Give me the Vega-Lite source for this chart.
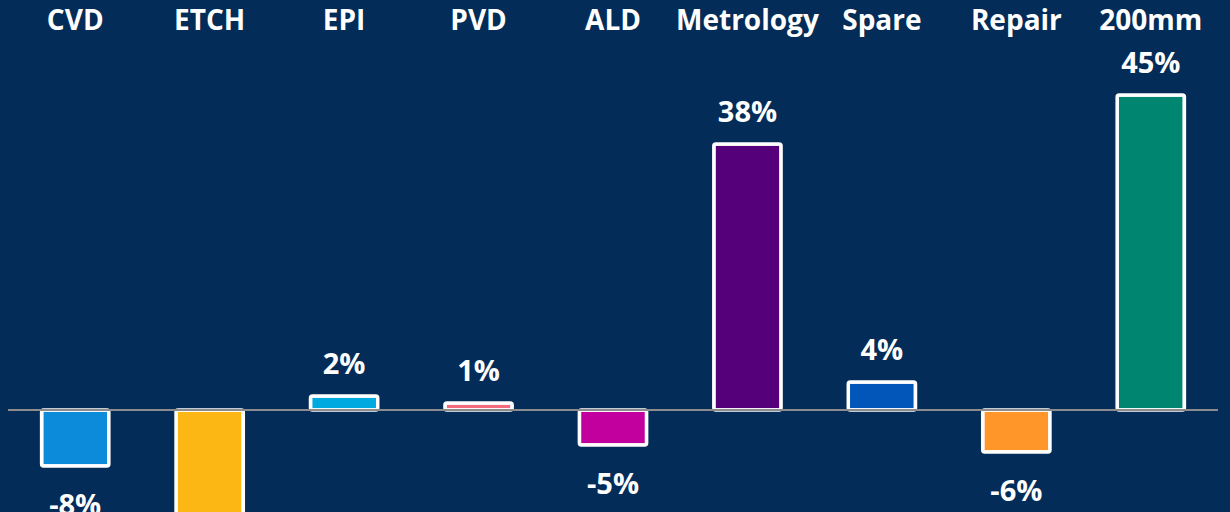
{
  "$schema": "https://vega.github.io/schema/vega-lite/v6.json",
  "width": 1210,
  "height": 510,
  "autosize": {"type": "none"},
  "padding": {"left": 8, "top": 40, "right": 12, "bottom": 0},
  "background": "#032c58",
  "config": {
    "view": {"stroke": null},
    "font": "Open Sans",
    "locale": {"number": {"decimal": ".", "thousands": ",", "grouping": [3], "currency": ["$", ""], "minus": "-"}}
  },
  "data": {
    "values": [
      {"segment": "CVD", "value": -0.08},
      {"segment": "ETCH", "value": -0.18},
      {"segment": "EPI", "value": 0.02},
      {"segment": "PVD", "value": 0.01},
      {"segment": "ALD", "value": -0.05},
      {"segment": "Metrology", "value": 0.38},
      {"segment": "Spare", "value": 0.04},
      {"segment": "Repair", "value": -0.06},
      {"segment": "200mm", "value": 0.45}
    ]
  },
  "layer": [
    {
      "mark": {"type": "bar", "stroke": "white", "strokeWidth": 3.5, "cornerRadius": 2},
      "encoding": {
        "x": {"field": "segment", "type": "nominal", "sort": null,
          "scale": {"paddingInner": 0.5, "paddingOuter": 0.25},
          "axis": {"orient": "top", "title": null, "domain": false, "ticks": false, "labelAngle": 0,
            "labelColor": "white", "labelFontSize": 28, "labelFontWeight": "bold", "labelFont": "Open Sans", "labelPadding": 5}},
        "y": {"field": "value", "type": "quantitative", "scale": {"domain": [-0.2, 0.52857], "nice": false, "zero": true}, "axis": null},
        "color": {"field": "segment", "type": "nominal", "legend": null,
          "scale": {"domain": ["CVD", "ETCH", "EPI", "PVD", "ALD", "Metrology", "Spare", "Repair", "200mm"],
            "range": ["#0B8BDA", "#FCB715", "#00A9DF", "#F26B7D", "#C2009E", "#55007A", "#0256B9", "#FF9629", "#008570"]}}
      }
    },
    {
      "data": {"values": [{}]},
      "mark": {"type": "rule", "color": "#8c8c8c", "strokeWidth": 2},
      "encoding": {"y": {"datum": 0}}
    },
    {
      "transform": [{"filter": "datum.value >= 0"}],
      "mark": {"type": "text", "color": "white", "fontSize": 29, "fontWeight": "bold", "font": "Open Sans", "baseline": "middle", "dy": -31},
      "encoding": {
        "x": {"field": "segment", "type": "nominal", "sort": null},
        "y": {"field": "value", "type": "quantitative"},
        "text": {"field": "value", "type": "quantitative", "format": ".0%"}
      }
    },
    {
      "transform": [{"filter": "datum.value < 0"}],
      "mark": {"type": "text", "color": "white", "fontSize": 29, "fontWeight": "bold", "font": "Open Sans", "baseline": "middle", "dy": 40},
      "encoding": {
        "x": {"field": "segment", "type": "nominal", "sort": null},
        "y": {"field": "value", "type": "quantitative"},
        "text": {"field": "value", "type": "quantitative", "format": ".0%"}
      }
    }
  ]
}
